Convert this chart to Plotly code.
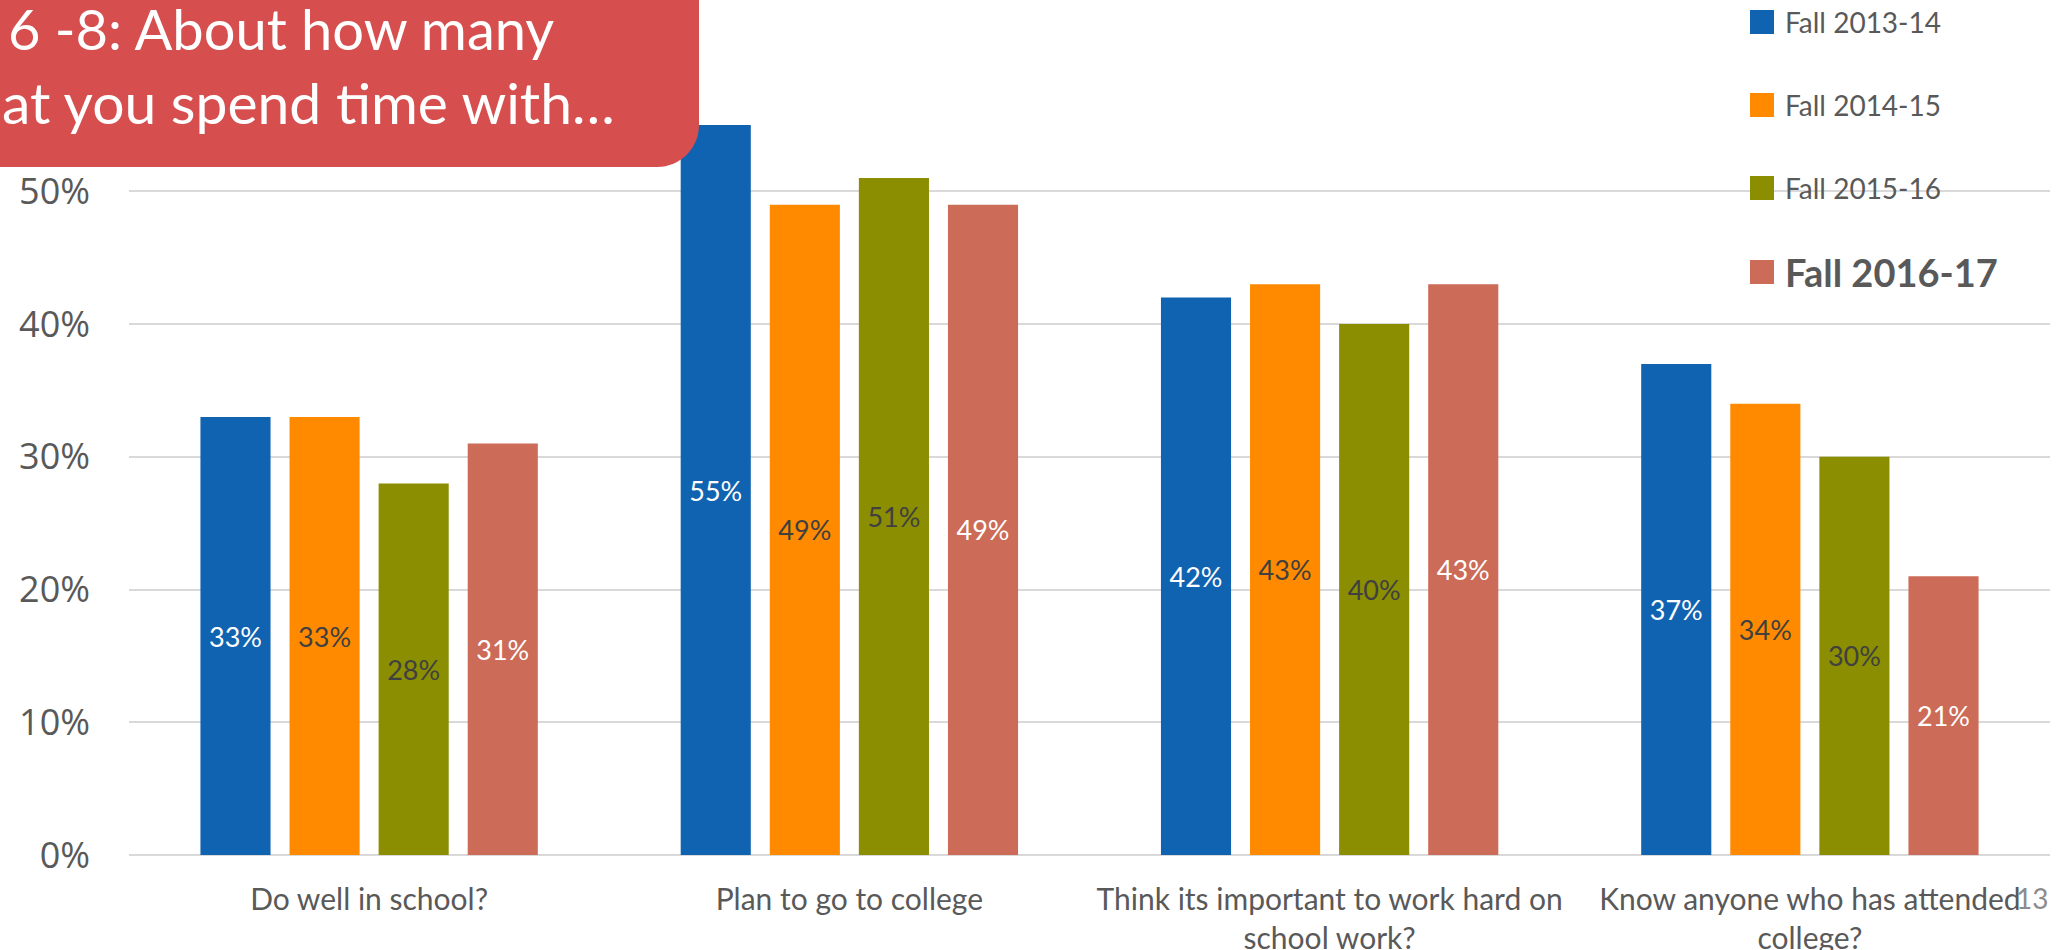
import plotly.graph_objects as go

categories = ["Do well in school?", "Plan to go to college",
              "Think its important to work hard on<br>school work?",
              "Know anyone who has attended<br>college?"]
series_names = ["Fall 2013-14", "Fall 2014-15", "Fall 2015-16", "Fall 2016-17"]
fall_2013_14 = [33, 55, 42, 37]
fall_2014_15 = [33, 49, 43, 34]
fall_2015_16 = [28, 51, 40, 30]
fall_2016_17 = [31, 49, 43, 21]
series_values = [fall_2013_14, fall_2014_15, fall_2015_16, fall_2016_17]
colors = ["#1063B0", "#FF8A00", "#8A8E00", "#CC6B57"]
label_colors = ["#FFFFFF", "#404040", "#404040", "#FFFFFF"]
title_lines = ["6 -8: About how many", "at you spend time with…"]
page_number = "13"

W, H = 2070, 950
L, R, T, B = 129, 20, 58, 95
PW, PH = W - L - R, H - T - B


def px(x):
    return (x - L) / PW


def py(y):
    return (H - B - y) / PH


fig = go.Figure()
for name, vals, col, lc in zip(series_names, series_values, colors, label_colors):
    fig.add_trace(go.Bar(
        x=categories, y=[v / 100 for v in vals], name=name,
        marker=dict(color=col, line=dict(width=0)),
        text=[f"{v}%" for v in vals], textposition="inside",
        insidetextanchor="middle", textangle=0,
        textfont=dict(family="Lato", size=27, color=lc),
        showlegend=False, cliponaxis=False,
    ))

shapes = []
annotations = []

# Title box (rounded bottom-right corner)
x0, x1, y0, y1, r = -30, 699, -30, 167, 42
k = 0.5523 * r
path = (f"M {px(x0)},{py(y0)} L {px(x1)},{py(y0)} L {px(x1)},{py(y1 - r)} "
        f"C {px(x1)},{py(y1 - r + k)} {px(x1 - r + k)},{py(y1)} {px(x1 - r)},{py(y1)} "
        f"L {px(x0)},{py(y1)} Z")
shapes.append(dict(type="path", xref="paper", yref="paper", path=path,
                   fillcolor="#D64F4E", line=dict(width=0), layer="above"))
annotations.append(dict(xref="paper", yref="paper", x=px(6), y=py(29), xanchor="left",
                        yanchor="middle", text=title_lines[0], showarrow=False,
                        font=dict(family="Lato", size=56, color="#FFFFFF")))
annotations.append(dict(xref="paper", yref="paper", x=px(0), y=py(102), xanchor="left",
                        yanchor="middle", text=title_lines[1], showarrow=False,
                        font=dict(family="Lato", size=57, color="#FFFFFF")))

# Custom legend
leg_y = [22, 105, 188, 272]
for i, (name, col) in enumerate(zip(series_names, colors)):
    yc = leg_y[i]
    shapes.append(dict(type="rect", xref="paper", yref="paper",
                       x0=px(1750), x1=px(1774), y0=py(yc - 12), y1=py(yc + 12),
                       fillcolor=col, line=dict(width=0), layer="above"))
    last = i == len(series_names) - 1
    annotations.append(dict(xref="paper", yref="paper", x=px(1783), y=py(yc),
                            xanchor="left", yanchor="middle",
                            text=f"<b>{name}</b>" if last else name, showarrow=False,
                            font=dict(family="Lato", size=38 if last else 28,
                                      color="#595959")))

# Page number
annotations.append(dict(xref="paper", yref="paper", x=px(2014), y=py(898), xanchor="left",
                        yanchor="middle", text=page_number, showarrow=False,
                        font=dict(family="Lato", size=28, color="#8C8C8C")))

fig.update_layout(
    width=W, height=H,
    margin=dict(l=L, r=R, t=T, b=B, autoexpand=False),
    paper_bgcolor="white", plot_bgcolor="white",
    barmode="group", bargap=0.258, bargroupgap=0.213,
    shapes=shapes, annotations=annotations,
    showlegend=False,
    xaxis=dict(showgrid=False, showline=False, ticks="",
               tickfont=dict(family="Lato", size=30, color="#595959"),
               ticklabelstandoff=24),
    yaxis=dict(range=[0, 0.6005], dtick=0.1, tickformat=".0%",
               showgrid=True, gridcolor="#D9D9D9", gridwidth=2,
               zeroline=True, zerolinecolor="#D9D9D9", zerolinewidth=2,
               showline=False, ticks="",
               tickfont=dict(family="Open Sans", size=36, color="#595959"),
               ticklabelstandoff=38),
)

fig.write_html("out.html",
               config={"displayModeBar": False},
               post_script="document.body.style.margin='0';document.body.style.padding='0';")
